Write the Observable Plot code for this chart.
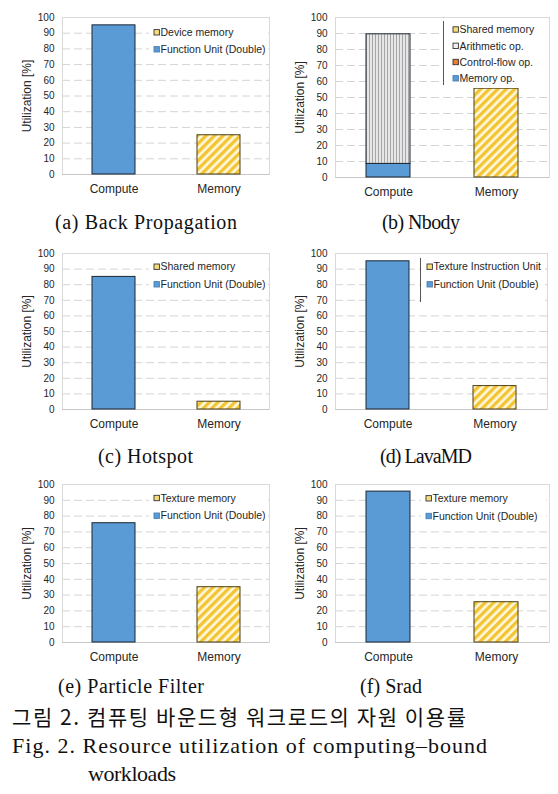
<!DOCTYPE html>
<html><head><meta charset="utf-8">
<script src="https://cdn.jsdelivr.net/npm/d3@7"></script>
<script src="https://cdn.jsdelivr.net/npm/@observablehq/plot@0.6"></script>
<style>
body{margin:0;background:#fff;width:558px;height:794px;position:relative;overflow:hidden;}
.panel{position:absolute;}
#captions{position:absolute;left:0;top:0;pointer-events:none;}
</style></head><body>
<svg width="0" height="0" style="position:absolute;left:0;top:0">
<defs>
<pattern id="hatchY" patternUnits="userSpaceOnUse" width="6" height="6" patternTransform="rotate(45)">
<rect width="6" height="6" fill="#fff8dc"/>
<rect width="3.3" height="6" fill="#f3c433"/>
</pattern>
<pattern id="vGray" patternUnits="userSpaceOnUse" width="3" height="3">
<rect width="3" height="3" fill="#e6e6e6"/>
<rect width="1" height="3" fill="#a6a6a6"/>
</pattern>
</defs></svg>
<div id="root"></div>
<svg id="captions" width="558" height="794"></svg>
<script>
// ---- data ----
const categories = ["Compute", "Memory"];
const panelTitles = ["(a) Back Propagation", "(b) Nbody", "(c) Hotspot", "(d) LavaMD", "(e) Particle Filter", "(f) Srad"];
const memoryLabels = ["Device memory", "Shared memory", "Shared memory", "Texture Instruction Unit", "Texture memory", "Texture memory"];
const memoryValues = [25, 55.5, 5, 15, 35, 25.5];
const computeSeries = [
  ["Function Unit (Double)"],
  ["Memory op.", "Control-flow op.", "Arithmetic op."],
  ["Function Unit (Double)"],
  ["Function Unit (Double)"],
  ["Function Unit (Double)"],
  ["Function Unit (Double)"]
];
const computeValues = [[95], [8.5, 0, 81], [85], [95], [75.5], [95.5]];
const yTicks = [0, 10, 20, 30, 40, 50, 60, 70, 80, 90, 100];
const yLabel = "Utilization [%]";
const captionKo = "그림 2. 컴퓨팅 바운드형 워크로드의 자원 이용률";
const captionEn1 = "Fig. 2. Resource utilization of computing\u2013bound";
const captionEn2 = "workloads";

// ---- styles ----
const seriesFill = {
  "Function Unit (Double)": "#5b9bd5",
  "Memory op.": "#5b9bd5",
  "Control-flow op.": "#ed7d31",
  "Arithmetic op.": "url(#vGray)"
};
const memFill = "url(#hatchY)";

// ---- layout (page px) ----
const layout = [
  {left:0, top:0, mL:62, mR:10, mT:17, mB:31, sw:154, rows:[32.3,49.3], box:[149,21,268,58], line:null,
   title:{x:55,y:229,len:182}},
  {left:279, top:0, mL:56, mR:9, mT:17, mB:28, sw:453, rows:[29.5,45.8,62,78.3], box:[443,19,547,88], line:[443.5,21,85],
   title:{x:382,y:229,len:78}},
  {left:0, top:236, mL:62, mR:10, mT:17, mB:32, sw:154, rows:[266.7,284.3], box:[149,257,268,293], line:null,
   title:{x:98,y:462.5,len:95}},
  {left:279, top:236, mL:56, mR:11, mT:17, mB:32, sw:427, rows:[266.7,284.3], box:[420,256,545,302], line:[420.5,258,302],
   title:{x:380,y:462.5,len:92}},
  {left:0, top:467, mL:62, mR:10, mT:17, mB:30, sw:154, rows:[498,515.7], box:[149,488,268,525], line:null,
   title:{x:58,y:693,len:146}},
  {left:279, top:467, mL:56, mR:9, mT:17, mB:30, sw:426, rows:[498.3,516], box:[421,488,546,525], line:null,
   title:{x:360,y:693,len:62}}
];

const root = document.getElementById("root");
const W = 279, H = 205;

panelTitles.forEach((title, i) => {
  const L = layout[i];
  const rows = [];
  computeSeries[i].forEach((s, j) => rows.push({category: categories[0], series: s, value: computeValues[i][j], kind: "compute"}));
  rows.push({category: categories[1], series: memoryLabels[i], value: memoryValues[i], kind: "memory"});

  const svg = Plot.plot({
    width: W, height: H,
    marginLeft: L.mL, marginRight: L.mR, marginTop: L.mT, marginBottom: L.mB,
    style: {fontFamily: "'Liberation Sans', Arial, sans-serif", background: "transparent", color: "#262626", overflow: "visible"},
    x: {domain: categories, paddingInner: 0.595, paddingOuter: 0.28, align: 0.5, label: null},
    y: {domain: [0, 100], label: yLabel},
    color: {type: "identity"},
    marks: [
      Plot.ruleY(yTicks.filter(t => t > 0 && t < 100), {stroke: "#d4d4d4", strokeDasharray: "8,4"}),
      Plot.frame({stroke: "#d9d9d9"}),
      Plot.ruleY([0], {stroke: "#c8c8c8"}),
      Plot.barY(rows, Plot.stackY({
        x: "category", y: "value",
        fill: d => d.kind === "memory" ? memFill : seriesFill[d.series],
        stroke: d => d.kind === "memory" ? "#4a3e14" : "#1b2633",
        strokeWidth: 1
      })),
      Plot.axisY({ticks: yTicks, tickSize: 0, tickPadding: 8, fontSize: 10, label: yLabel,
        labelAnchor: "center", labelOffset: 40, labelArrow: "none"}),
      Plot.axisX({tickSize: 0, tickPadding: 10, fontSize: 12, label: null})
    ]
  });
  d3.select(svg).selectAll("[aria-label='y-axis label'] text, [aria-label='y-axis label']").attr("font-size", 12);

  // legend
  const g = d3.select(svg).append("g").attr("transform", `translate(${-L.left},${-L.top})`)
    .attr("font-family", "'Liberation Sans', Arial, sans-serif").attr("font-size", 10.5).attr("text-anchor", "start");
  g.append("rect").attr("x", L.box[0]).attr("y", L.box[1]).attr("width", L.box[2] - L.box[0]).attr("height", L.box[3] - L.box[1]).attr("fill", "#fff");
  if (L.line) g.append("line").attr("x1", L.line[0]).attr("x2", L.line[0]).attr("y1", L.line[1]).attr("y2", L.line[2]).attr("stroke", "#555").attr("stroke-width", 1);
  const items = [{label: memoryLabels[i], fill: memFill, stroke: "#333"}]
    .concat(computeSeries[i].slice().reverse().map(s => ({
      label: s, fill: seriesFill[s],
      stroke: seriesFill[s] === "#5b9bd5" ? "#4a7fb0" : "#333"
    })));
  items.forEach((it, k) => {
    const y = L.rows[k];
    g.append("rect").attr("x", L.sw).attr("y", y - 2.7).attr("width", 5.4).attr("height", 5.4)
      .attr("fill", it.fill === memFill ? "#f7dc7a" : it.fill === "url(#vGray)" ? "#eeeeee" : it.fill)
      .attr("stroke", it.stroke).attr("stroke-width", 0.9);
    g.append("text").attr("x", L.sw + 6.5).attr("y", y).attr("dy", "0.36em").attr("text-anchor", "start")
      .attr("fill", "#262626").text(it.label);
  });

  const div = document.createElement("div");
  div.className = "panel";
  div.style.left = L.left + "px";
  div.style.top = L.top + "px";
  div.appendChild(svg);
  root.appendChild(div);
});

// captions
const cap = d3.select("#captions");
panelTitles.forEach((t, i) => {
  const T = layout[i].title;
  cap.append("text").attr("x", T.x).attr("y", T.y).attr("textLength", T.len).attr("lengthAdjust", "spacing")
    .attr("font-family", "'Liberation Serif', 'DejaVu Serif', serif").attr("font-size", 20).attr("fill", "#111").text(t);
});
cap.append("text").attr("x", 12).attr("y", 725).attr("textLength", 454).attr("lengthAdjust", "spacing")
  .attr("font-family", "'Noto Sans CJK KR', sans-serif").attr("font-size", 21).attr("fill", "#111").text(captionKo);
cap.append("text").attr("x", 12).attr("y", 753).attr("textLength", 475).attr("lengthAdjust", "spacing")
  .attr("font-family", "'Liberation Serif', 'DejaVu Serif', serif").attr("font-size", 22).attr("fill", "#111").text(captionEn1);
cap.append("text").attr("x", 88).attr("y", 781).attr("textLength", 88).attr("lengthAdjust", "spacing")
  .attr("font-family", "'Liberation Serif', 'DejaVu Serif', serif").attr("font-size", 22).attr("fill", "#111").text(captionEn2);
</script>
</body></html>
